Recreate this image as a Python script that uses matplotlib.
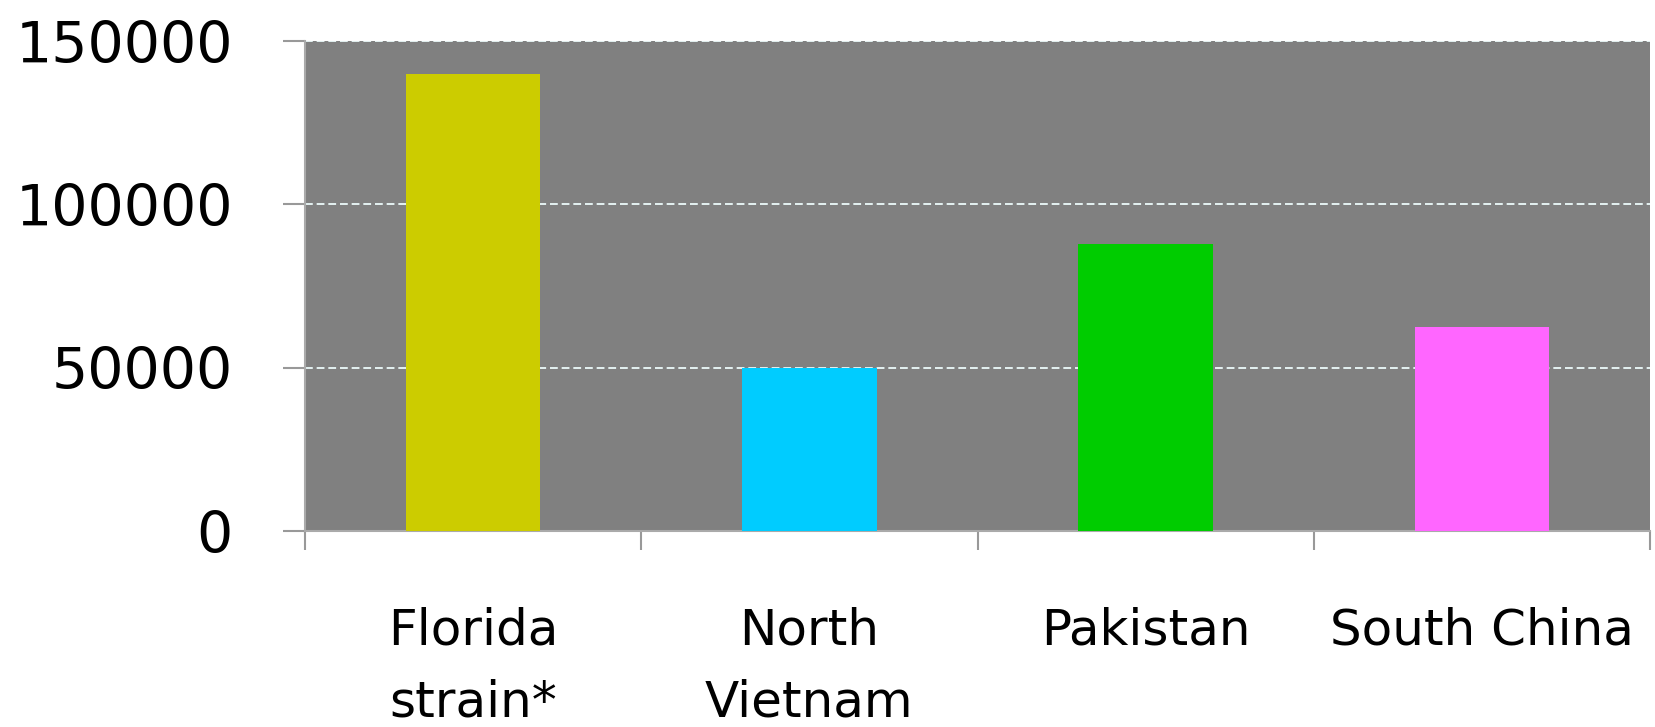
import matplotlib.pyplot as plt
import numpy as np

# Bar values per strain
strains = ['Florida\nstrain*', 'North\nVietnam', 'Pakistan', 'South China']
counts = [140000, 50000, 88000, 62500]
bar_colors = ['#CCCC00', '#00CCFF', '#00CC00', '#FF66FF']
y_ticks = [0, 50000, 100000, 150000]

plt.rcParams['font.family'] = ['DejaVu Sans']

fig = plt.figure(figsize=(16.55, 7.27), dpi=100)
ax = fig.add_axes([0.1843, 0.2696, 0.8127, 0.674])
ax.set_facecolor('#808080')

x = np.arange(len(strains))
ax.bar(x, counts, width=0.4, color=bar_colors, zorder=3)

ax.set_xlim(-0.5, len(strains) - 0.5)
ax.set_ylim(0, 150000)

# dashed horizontal grid lines
ax.set_yticks(y_ticks)
ax.set_yticklabels([str(v) for v in y_ticks])
ax.yaxis.grid(True, color='#E4F2F2', linestyle=(0, (4, 2)), linewidth=1.4, zorder=1)
ax.set_axisbelow(True)

# category boundaries get tick marks, labels sit at bar centers
ax.set_xticks(np.arange(len(strains) + 1) - 0.5)
ax.set_xticklabels([])
ax.set_xticks(x, minor=True)
ax.set_xticklabels(strains, minor=True, fontsize=36, linespacing=1.65)
ax.tick_params(axis='x', which='major', length=14, width=1.5, color='#999999')
ax.tick_params(axis='x', which='minor', length=0, pad=54)
ax.tick_params(axis='y', length=16, width=1.5, color='#999999', labelsize=41, pad=36)

for side in ['top', 'right']:
    ax.spines[side].set_visible(False)
for side in ['left', 'bottom']:
    ax.spines[side].set_color('#AAAAAA')
    ax.spines[side].set_linewidth(1.5)

fig.savefig('out.png', dpi=100)
